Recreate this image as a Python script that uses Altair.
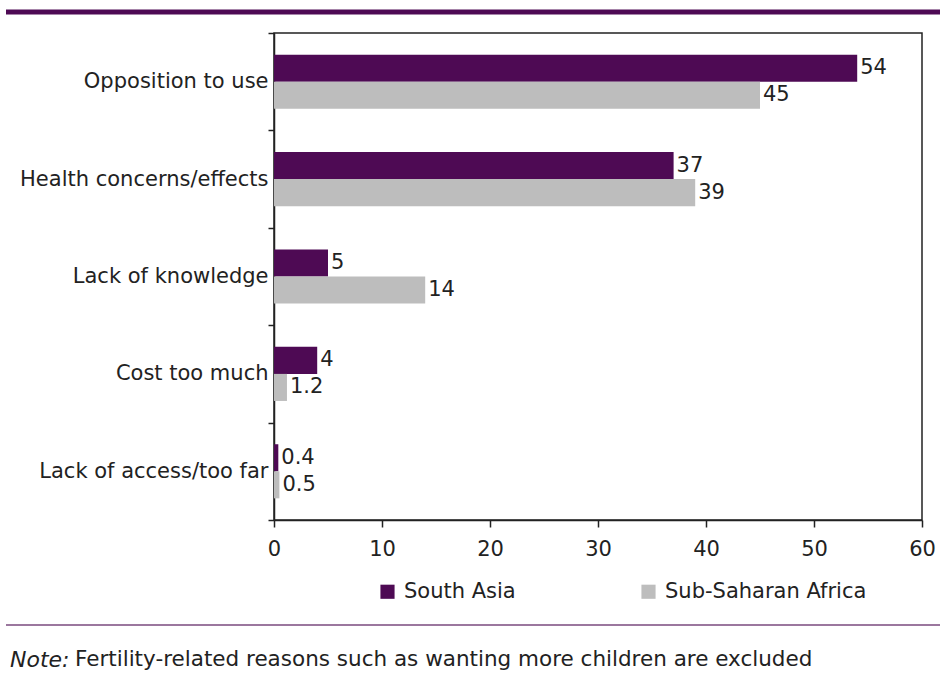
import altair as alt
import pandas as pd

# Reasons for not using contraception, % of women with unmet need
reasons = [
    "Opposition to use",
    "Health concerns/effects",
    "Lack of knowledge",
    "Cost too much",
    "Lack of access/too far",
]
regions = ["South Asia", "Sub-Saharan Africa"]
south_asia = [54, 37, 5, 4, 0.4]
south_asia_labels = ["54", "37", "5", "4", "0.4"]
sub_saharan = [45, 39, 14, 1.2, 0.5]
sub_saharan_labels = ["45", "39", "14", "1.2", "0.5"]
x_ticks = [0, 10, 20, 30, 40, 50, 60]
note_lead = "Note:"
note_body = "Fertility-related reasons such as wanting more children are excluded"

PURPLE = "#4e0a54"
GREY = "#bdbdbd"
INK = "#222222"
FONT = "DejaVu Sans"
FS = 21

rows = []
for r, v, lab in zip(reasons, south_asia, south_asia_labels):
    rows.append({"reason": r, "region": regions[0], "value": v, "label": lab})
for r, v, lab in zip(reasons, sub_saharan, sub_saharan_labels):
    rows.append({"reason": r, "region": regions[1], "value": v, "label": lab})
df = pd.DataFrame(rows)

x_enc = alt.X(
    "value:Q",
    scale=alt.Scale(domain=[0, 60], nice=False),
    axis=alt.Axis(
        values=x_ticks, title=None, grid=False, tickSize=7, labelPadding=11,
        labelFlush=False,
        labelFontSize=FS, labelFont=FONT, labelColor=INK,
        tickColor=INK, domainColor=INK, tickWidth=1.5, domainWidth=1.5,
    ),
)
y_enc = alt.Y(
    "reason:N",
    sort=reasons,
    scale=alt.Scale(paddingInner=0, paddingOuter=0),
    axis=alt.Axis(
        title=None, tickBand="extent", tickSize=6, labelPadding=0, labelLimit=400,
        labelFontSize=FS, labelFont=FONT, labelColor=INK,
        tickColor=INK, domainColor=INK, tickWidth=1.5, domainWidth=1.5,
    ),
)
y_off = alt.YOffset(
    "region:N", sort=regions, scale=alt.Scale(paddingOuter=0.8, paddingInner=0)
)

bars = alt.Chart(df).mark_bar().encode(
    x=x_enc,
    y=y_enc,
    yOffset=y_off,
    color=alt.Color(
        "region:N",
        scale=alt.Scale(domain=regions, range=[PURPLE, GREY]),
        legend=alt.Legend(
            title=None, orient="none", legendX=103, legendY=548,
            direction="horizontal", symbolType="square", symbolSize=200,
            symbolStrokeWidth=0, labelFontSize=FS, labelFont=FONT,
            labelColor=INK, columnPadding=122, labelOffset=6, labelLimit=400,
        ),
    ),
)

labels = alt.Chart(df).mark_text(
    align="left", baseline="middle", dx=3, fontSize=FS, font=FONT, color=INK
).encode(x="value:Q", y=alt.Y("reason:N", sort=reasons), yOffset=y_off, text="label:N")

blank = alt.Data(values=[{}])

top_band = alt.Chart(blank).mark_rule(color=PURPLE, strokeWidth=5).encode(
    x=alt.value(-268), x2=alt.value(666), y=alt.value(-21)
)
bottom_rule = alt.Chart(blank).mark_rule(color="#7a4a7e", strokeWidth=1.5).encode(
    x=alt.value(-268), x2=alt.value(666), y=alt.value(592)
)
note_a = alt.Chart(blank).mark_text(
    align="left", baseline="middle", fontSize=22, font=FONT, fontStyle="italic", color=INK
).encode(x=alt.value(-264), y=alt.value(627), text=alt.value(note_lead))
note_b = alt.Chart(blank).mark_text(
    align="left", baseline="middle", fontSize=21.5, font=FONT, color=INK
).encode(x=alt.value(-199), y=alt.value(627), text=alt.value(note_body))

chart = (
    alt.layer(bars, labels, top_band, bottom_rule, note_a, note_b)
    .properties(
        width=648,
        height=487,
        padding={"left": 274, "top": 33, "right": 24, "bottom": 165},
        autosize=alt.AutoSizeParams(type="none"),
        background="white",
    )
    .configure_view(stroke=INK, strokeWidth=1.5)
)

chart.save("out.html", embed_options={"renderer": "svg", "actions": False})
